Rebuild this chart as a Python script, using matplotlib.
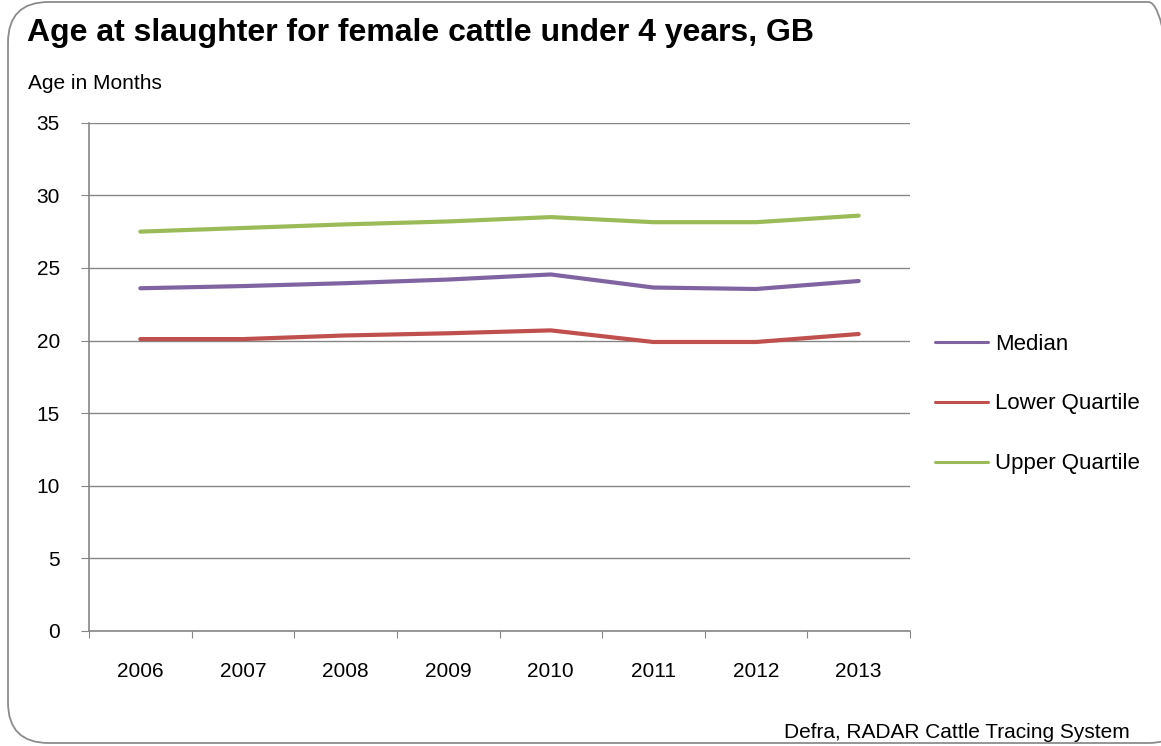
import matplotlib
matplotlib.use("Agg")
import matplotlib.pyplot as plt
from matplotlib.patches import FancyBboxPatch

plt.rcParams['font.family'] = ['Liberation Sans', 'DejaVu Sans']

# data
years = ['2006', '2007', '2008', '2009', '2010', '2011', '2012', '2013']
median = [23.6, 23.75, 23.95, 24.2, 24.55, 23.65, 23.55, 24.1]
lower_q = [20.1, 20.1, 20.35, 20.5, 20.7, 19.9, 19.9, 20.45]
upper_q = [27.5, 27.75, 28.0, 28.2, 28.5, 28.15, 28.15, 28.6]
y_ticks = [0, 5, 10, 15, 20, 25, 30, 35]

W, H = 1161, 746
fig = plt.figure(figsize=(W / 100, H / 100), dpi=100)

# rounded frame round the whole chart
frame = FancyBboxPatch((8 / W, 3 / H), (W + 20) / W, (H - 5) / H,
                       boxstyle="round,pad=0,rounding_size=0.035",
                       transform=fig.transFigure, fill=False,
                       edgecolor='#8c8c8c', linewidth=1.3, mutation_aspect=W / H)
fig.patches.append(frame)

ax = fig.add_axes([89 / W, (H - 631) / H, (910 - 89) / W, (631 - 122.7) / H])

x = range(len(years))
ax.plot(x, median, color='#8064A2', lw=3, solid_capstyle='round', label='Median')
ax.plot(x, lower_q, color='#C0504D', lw=3, solid_capstyle='round', label='Lower Quartile')
ax.plot(x, upper_q, color='#9BBB59', lw=3, solid_capstyle='round', label='Upper Quartile')

ax.set_xlim(-0.5, len(years) - 0.5)
ax.set_ylim(0, 35)
ax.set_yticks(y_ticks)
ax.set_xticks([i + 0.5 for i in range(-1, len(years))], minor=False)
ax.set_xticklabels([])
ax.set_xticks(list(x), minor=True)
ax.set_xticklabels(years, minor=True)
ax.tick_params(axis='x', which='minor', length=0, pad=22, labelsize=15)
ax.tick_params(axis='x', which='major', length=5, color='#868686', direction='out')
ax.tick_params(axis='y', length=6, color='#868686', pad=15, labelsize=15)
ax.grid(axis='y', color='#868686', lw=1)
ax.set_axisbelow(True)
for s in ['top', 'right']:
    ax.spines[s].set_visible(False)
for s in ['left', 'bottom']:
    ax.spines[s].set_color('#868686')
    ax.spines[s].set_linewidth(1.2)

leg = fig.legend(loc='center left', bbox_to_anchor=(935 / W, (H - 404) / H),
                 bbox_transform=fig.transFigure, frameon=False, fontsize=16,
                 handlelength=2.4, handletextpad=0.3, labelspacing=1.75,
                 borderpad=0, borderaxespad=0)
for line in leg.get_lines():
    line.set_linewidth(2.2)

fig.text(27 / W, 1 - 41 / H, 'Age at slaughter for female cattle under 4 years, GB',
         fontsize=23, fontweight='bold', va='baseline')
fig.text(28 / W, 1 - 89 / H, 'Age in Months', fontsize=15, va='baseline')
fig.text(1130 / W, 1 - 738 / H, 'Defra, RADAR Cattle Tracing System',
         fontsize=15, ha='right', va='baseline')

fig.savefig('out.png', dpi=100)
